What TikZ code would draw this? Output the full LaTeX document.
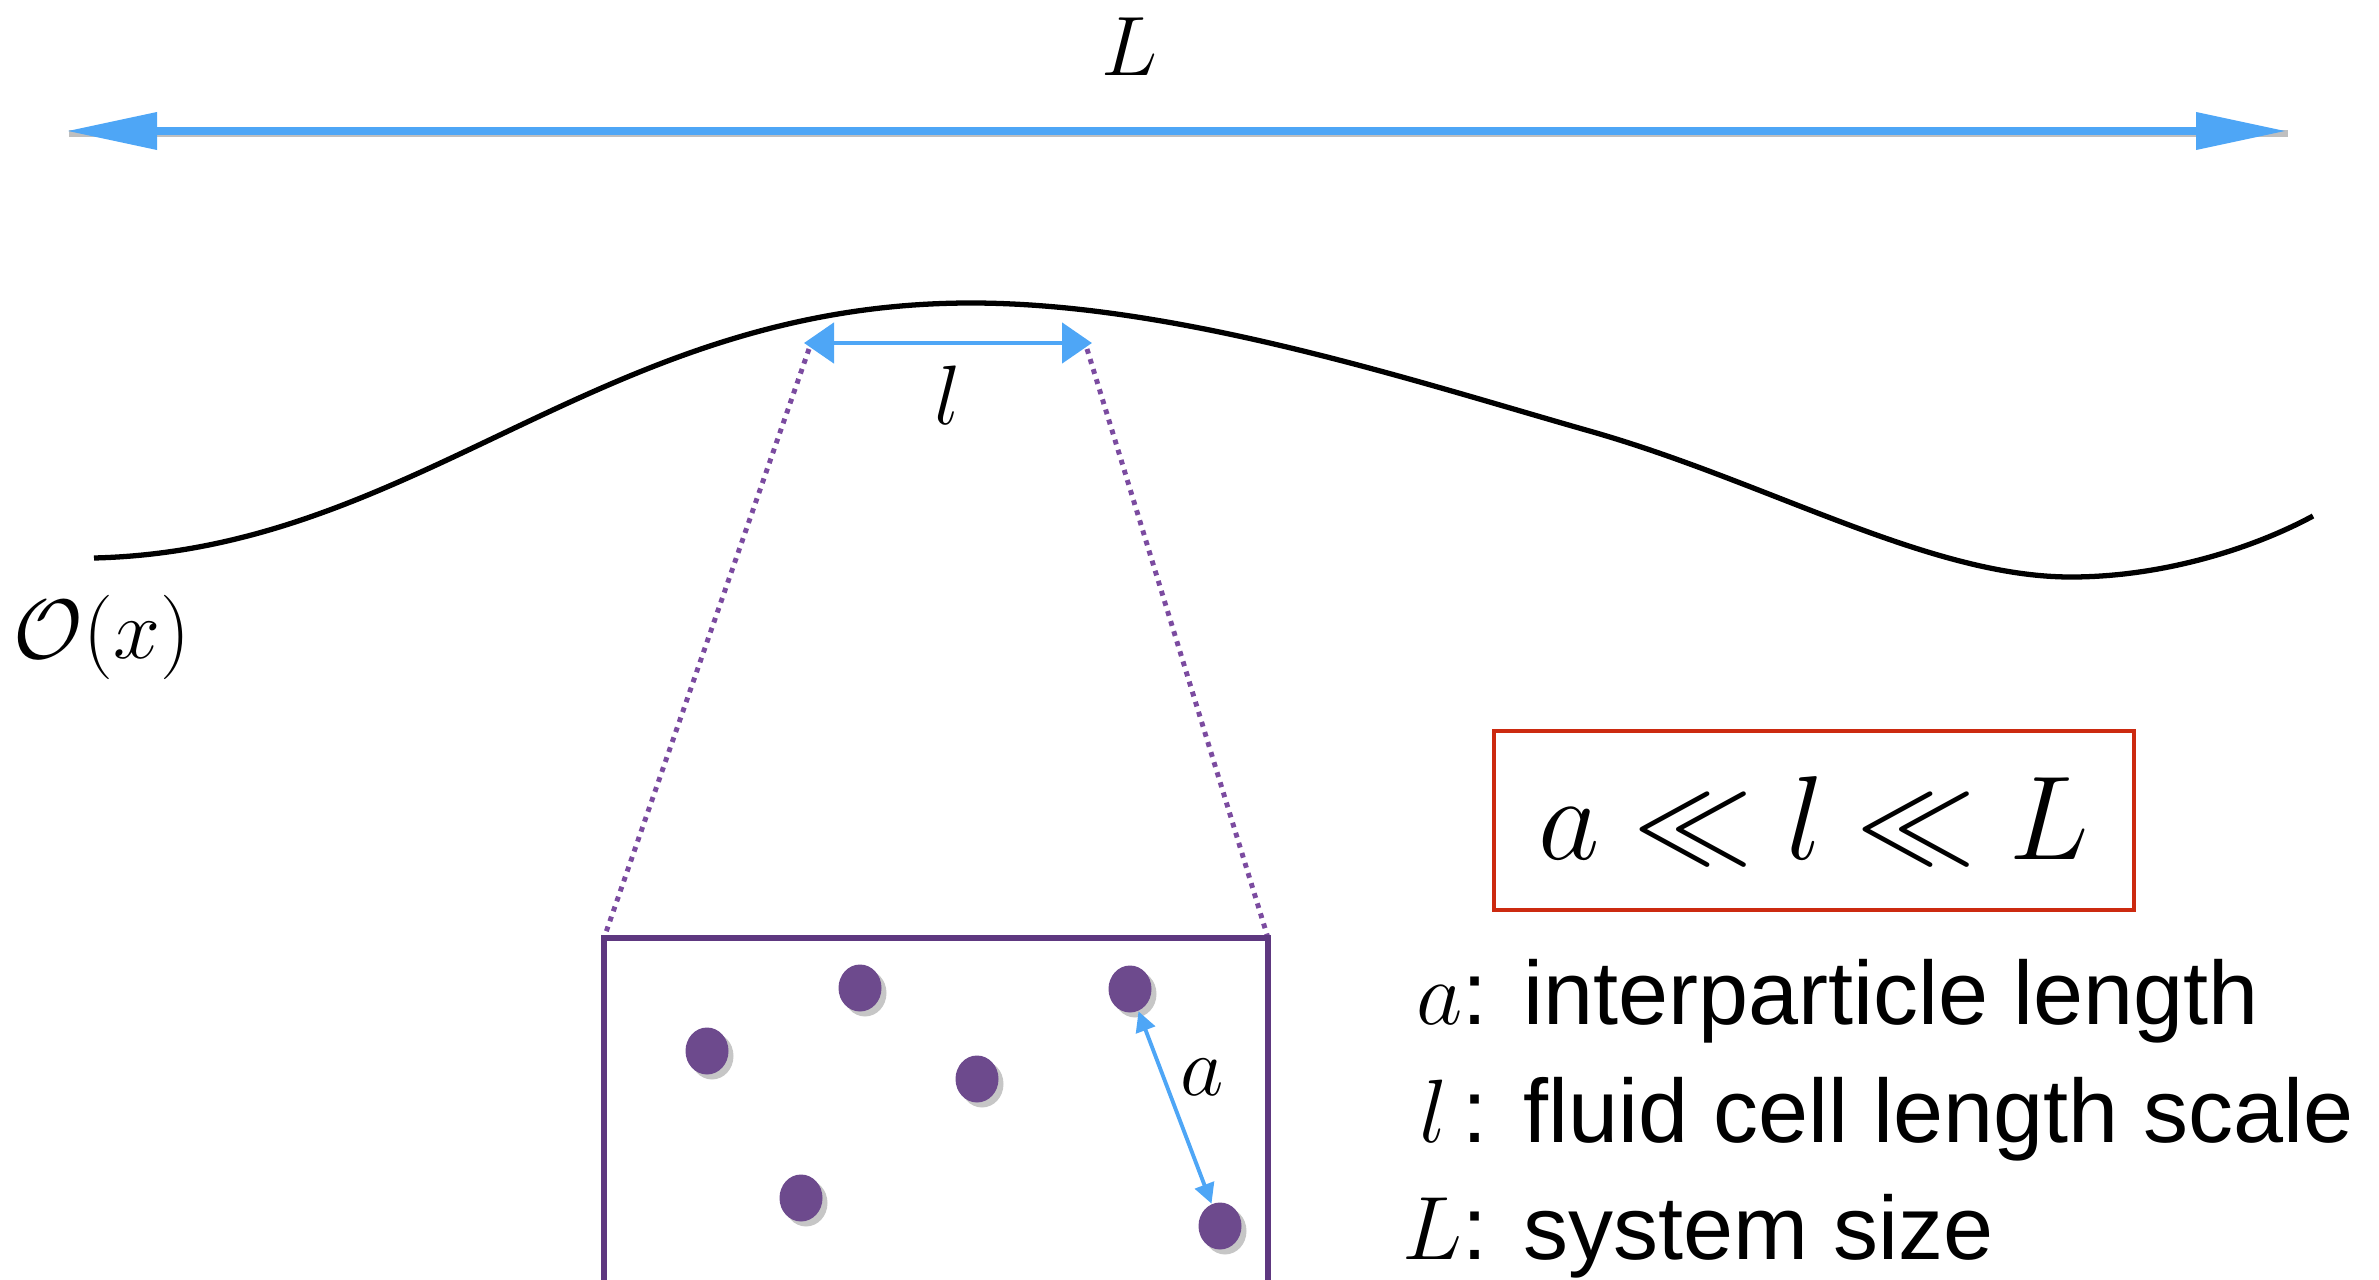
\RequirePackage{fix-cm}
\documentclass[tikz,border=0pt]{standalone}
\usepackage{fontspec}
\setsansfont{Liberation Sans}
\usepackage{amsmath,amssymb}
\usepackage{xcolor}
\usepackage{tikz}
\usetikzlibrary{arrows.meta,positioning,shapes.geometric,shadows}

\definecolor{scaleblue}{HTML}{4EA6F6}
\definecolor{cellpurple}{HTML}{5E3880}
\definecolor{zoompurple}{HTML}{7B4BA0}
\definecolor{particlepurple}{HTML}{6D4A8D}
\definecolor{ineqred}{HTML}{CC2A10}

\begin{document}
\begin{tikzpicture}[
  symbol/.style={inner sep=0pt, font=\fontsize{24}{28}\selectfont},
  bigarrow/.style={scaleblue, line width=2pt, {Triangle[length=0.9cm,width=0.36cm]}-{Triangle[length=0.9cm,width=0.36cm]}},
  cellarrow/.style={scaleblue, line width=1.4pt, {Triangle[length=0.3cm,width=0.4cm]}-{Triangle[length=0.3cm,width=0.4cm]}},
  gaparrow/.style={scaleblue, line width=1.1pt, {Triangle[length=0.2cm,width=0.2cm]}-{Triangle[length=0.2cm,width=0.2cm]}},
  shade/.style={black, opacity=0.25, line width=2pt, transform canvas={xshift=0.6pt, yshift=-0.8pt}},
  field/.style={black, line width=1.5pt},
  zoomline/.style={zoompurple, line width=1.4pt, dash pattern=on 1.4pt off 1.6pt},
  cell/.style={cellpurple, line width=1.5pt},
  particle/.style={ellipse, fill=particlepurple, minimum width=0.43cm, minimum height=0.47cm, inner sep=0pt,
    drop shadow={shadow xshift=0.05cm, shadow yshift=-0.05cm, opacity=0.45}},
  ineq/.style={draw=ineqred, line width=1.3pt, minimum width=6.4cm, minimum height=1.79cm, font=\fontsize{34}{40}\selectfont},
  legend/.style={anchor=base west, inner sep=0pt, font=\sffamily\fontsize{25.6}{31}\selectfont}
]
\useasboundingbox (0,0) rectangle (23.79,-12.79);

% system size
\coordinate (sysL) at (0.67,-1.31);
\coordinate (sysR) at (22.86,-1.31);
\draw[shade] (sysL) -- (sysR);
\draw[bigarrow] (sysL) -- (sysR);
\node[symbol] (Lsym) at (11.30,-0.47) {$L$};

% the field O(x)
\draw[field] (0.94,-5.58) .. controls (4.2,-5.5) and (6.0,-3.03) .. (9.71,-3.03)
  .. controls (11.8,-3.03) and (14.2,-3.83) .. (15.93,-4.32)
  .. controls (17.7,-4.83) and (19.3,-5.77) .. (20.71,-5.77)
  .. controls (21.6,-5.77) and (22.5,-5.5) .. (23.13,-5.16);
\node[symbol] (field) at (1.02,-6.37) {$\mathcal{O}(x)$};

% fluid cell
\coordinate (cellL) at (8.04,-3.43);
\coordinate (cellR) at (10.92,-3.43);
\draw[cellarrow] (cellL) -- (cellR);
\node[symbol] (lsym) at (9.48,-3.95) {$l$};

\coordinate (boxTL) at (6.04,-9.38);
\coordinate (boxTR) at (12.68,-9.38);
\coordinate (boxBL) at (6.04,-12.85);
\coordinate (boxBR) at (12.68,-12.85);
\draw[zoomline] ([xshift=0.05cm,yshift=-0.06cm]cellL) -- (boxTL);
\draw[zoomline] ([xshift=-0.05cm,yshift=-0.06cm]cellR) -- (boxTR);
\draw[cell] (boxBL) -- (boxTL) -- (boxTR) -- (boxBR);

% particles
\node[particle] (p1) at (8.60,-9.88) {};
\node[particle] (p2) at (11.30,-9.89) {};
\node[particle] (p3) at (7.07,-10.51) {};
\node[particle] (p4) at (9.77,-10.79) {};
\node[particle] (p5) at (8.01,-11.98) {};
\node[particle] (p6) at (12.20,-12.26) {};
\draw[gaparrow] (p2) -- (p6);
\node[symbol] (asym) at (12.02,-10.77) {$a$};

% scale separation
\node[ineq] (order) at (18.14,-8.205) {$a \ll l \ll L$};

\node[legend] (keya) at (14.12,-10.24) {\makebox[0.5cm][r]{$a$}:\hspace{0.36cm}interparticle length};
\node[legend] (keyl) at (14.12,-11.42) {\makebox[0.5cm][r]{$l$\,}:\hspace{0.36cm}fluid cell length scale};
\node[legend] (keyL) at (14.12,-12.59) {\makebox[0.5cm][r]{$L$}:\hspace{0.36cm}system size};
\end{tikzpicture}
\end{document}
